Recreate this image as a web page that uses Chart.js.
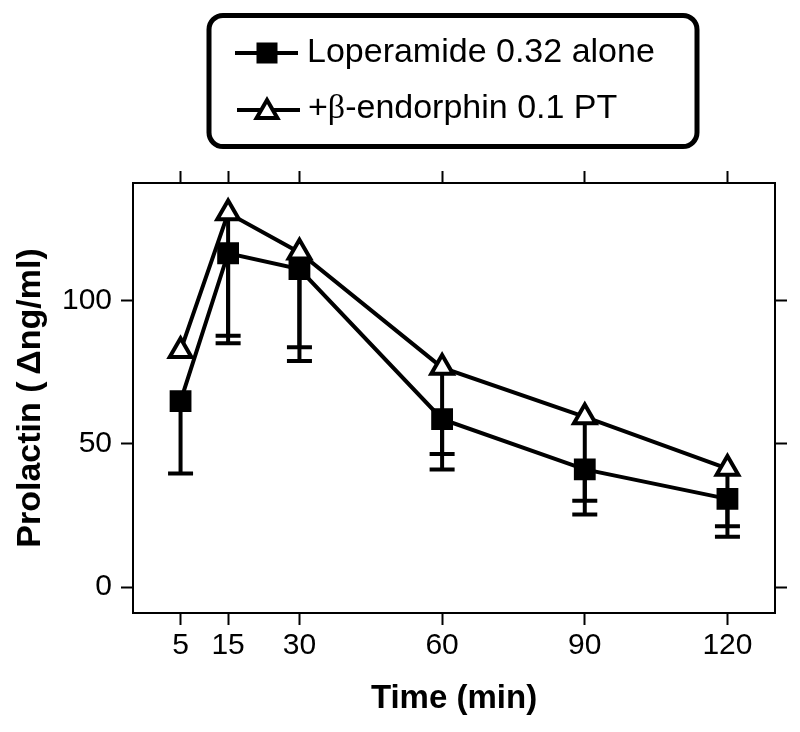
<!DOCTYPE html>
<html>
<head>
<meta charset="utf-8">
<script src="https://cdn.jsdelivr.net/npm/chart.js@4.4.1/dist/chart.umd.min.js"></script>
<style>
  html, body { margin: 0; padding: 0; background: #fff; }
  #wrap { position: relative; width: 800px; height: 732px; }
</style>
</head>
<body>
<div id="wrap"><canvas id="prl"></canvas></div>
<script>
// time points (min)
const times = [5, 15, 30, 60, 90, 120];
// loperamide 0.32 alone (filled squares)
const loperamide = [64.9, 116.5, 111.0, 58.6, 41.1, 30.8];
const loperamideErr = [25.2, 31.4, 32.1, 17.5, 15.7, 13.2];
// + beta-endorphin 0.1 PT (open triangles)
const endorphin = [82.5, 130.5, 116.8, 76.6, 59.4, 41.4];
const endorphinErr = [null, 42.8, 33.1, 30.1, 29.2, 20.1];
const yTicks = [0, 50, 100];

const FONT = 'Liberation Sans, Arial, sans-serif';
const pts = (ys) => times.map((t, i) => ({ x: t, y: ys[i] }));

// downward-only error bars, drawn under the markers
const errBars = {
  id: 'errBars',
  beforeDatasetsDraw(chart) {
    const { ctx, scales: { x, y } } = chart;
    ctx.save();
    ctx.strokeStyle = '#000';
    ctx.lineWidth = 4;
    chart.data.datasets.forEach(ds => {
      ds.err.forEach((e, i) => {
        if (e == null) return;
        const px = x.getPixelForValue(times[i]);
        const y0 = y.getPixelForValue(ds.data[i].y);
        const y1 = y.getPixelForValue(ds.data[i].y - e);
        ctx.beginPath();
        ctx.moveTo(px, y0); ctx.lineTo(px, y1);
        ctx.moveTo(px - 12.5, y1); ctx.lineTo(px + 12.5, y1);
        ctx.stroke();
      });
    });
    ctx.restore();
  }
};

function drawSquare(ctx, cx, cy) {
  ctx.fillStyle = '#000';
  ctx.fillRect(cx - 10.5, cy - 10.5, 21, 21);
}
function drawTriangle(ctx, cx, cy, r) {
  ctx.beginPath();
  ctx.moveTo(cx, cy - r);
  ctx.lineTo(cx + r * Math.sin(Math.PI / 3), cy + r / 2);
  ctx.lineTo(cx - r * Math.sin(Math.PI / 3), cy + r / 2);
  ctx.closePath();
  ctx.fillStyle = '#fff';
  ctx.fill();
  ctx.lineWidth = 4;
  ctx.strokeStyle = '#000';
  ctx.stroke();
}

// boxed legend above the plot
const boxLegend = {
  id: 'boxLegend',
  afterDraw(chart) {
    const ctx = chart.ctx;
    ctx.save();
    ctx.strokeStyle = '#000';
    ctx.lineWidth = 5;
    ctx.beginPath();
    ctx.roundRect(209, 15.5, 488, 131, 14);
    ctx.stroke();

    ctx.lineWidth = 4;
    ctx.beginPath();
    ctx.moveTo(235, 53); ctx.lineTo(298, 53);
    ctx.moveTo(237, 110); ctx.lineTo(300, 110);
    ctx.stroke();
    drawSquare(ctx, 267, 53);
    drawTriangle(ctx, 267, 112, 12);

    ctx.fillStyle = '#000';
    ctx.textBaseline = 'middle';
    ctx.font = '34px ' + FONT;
    ctx.fillText('Loperamide 0.32 alone', 307, 53);
    let tx = 308;
    ctx.fillText('+', tx, 109); tx += ctx.measureText('+').width;
    ctx.font = '34px Liberation Serif, serif';
    ctx.fillText('\u03b2', tx, 109); tx += ctx.measureText('\u03b2').width;
    ctx.font = '34px ' + FONT;
    ctx.fillText('-endorphin 0.1 PT', tx, 109);
    ctx.restore();
  }
};

const tickGrid = { drawOnChartArea: false, drawTicks: true, tickLength: 12, tickWidth: 2, tickColor: '#000' };
const axisBorder = { display: true, color: '#000', width: 2 };

new Chart(document.getElementById('prl'), {
  type: 'line',
  data: {
    datasets: [
      {
        label: 'Loperamide 0.32 alone',
        data: pts(loperamide), err: loperamideErr,
        borderColor: '#000', borderWidth: 4,
        pointStyle: 'rect', pointRadius: 14, pointHoverRadius: 14,
        pointBackgroundColor: '#000', pointBorderColor: '#000', pointBorderWidth: 2
      },
      {
        label: '+\u03b2-endorphin 0.1 PT',
        data: pts(endorphin), err: endorphinErr,
        borderColor: '#000', borderWidth: 4,
        pointStyle: 'triangle', pointRadius: 12.5, pointHoverRadius: 12.5,
        pointBackgroundColor: '#fff', pointBorderColor: '#000', pointBorderWidth: 4
      }
    ]
  },
  options: {
    responsive: true, maintainAspectRatio: false, animation: false,
    layout: { padding: 0 },
    plugins: { legend: { display: false }, tooltip: { enabled: false } },
    scales: {
      x: {
        type: 'linear', position: 'bottom', min: -5, max: 130,
        afterBuildTicks: s => { s.ticks = times.map(v => ({ value: v })); },
        afterFit: s => { s.height = 119; },
        grid: tickGrid, border: axisBorder,
        ticks: { color: '#000', font: { family: FONT, size: 30 }, padding: 3, maxRotation: 0 },
        title: { display: true, text: 'Time (min)', color: '#000', font: { family: FONT, size: 33, weight: 'bold' }, padding: { bottom: 13 } }
      },
      x2: {
        type: 'linear', position: 'top', min: -5, max: 130,
        afterBuildTicks: s => { s.ticks = times.map(v => ({ value: v })); },
        afterFit: s => { s.height = 183; },
        grid: tickGrid, border: axisBorder,
        ticks: { display: false }
      },
      y: {
        type: 'linear', position: 'left', min: -9, max: 141,
        afterBuildTicks: s => { s.ticks = yTicks.map(v => ({ value: v })); },
        afterFit: s => { s.width = 133; },
        grid: tickGrid, border: axisBorder,
        ticks: { color: '#000', font: { family: FONT, size: 30 }, padding: 9 },
        title: { display: true, text: 'Prolactin (\u2009\u0394ng/ml)', color: '#000', font: { family: FONT, size: 34, weight: 'bold' }, padding: { top: 10 } }
      },
      y2: {
        type: 'linear', position: 'right', min: -9, max: 141,
        afterBuildTicks: s => { s.ticks = yTicks.map(v => ({ value: v })); },
        afterFit: s => { s.width = 25; },
        grid: tickGrid, border: axisBorder,
        ticks: { display: false }
      }
    }
  },
  plugins: [errBars, boxLegend]
});
</script>
</body>
</html>
